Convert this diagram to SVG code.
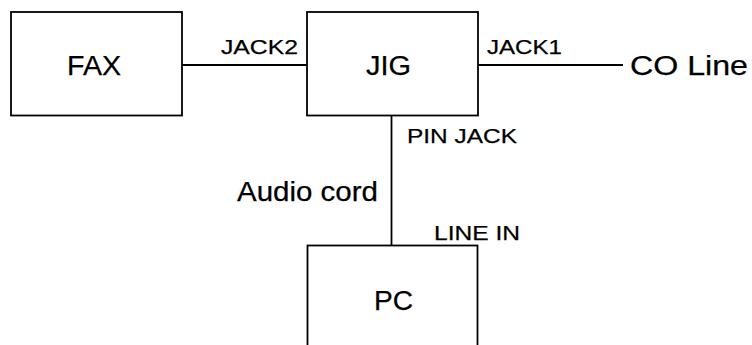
<svg xmlns="http://www.w3.org/2000/svg" width="752" height="345" viewBox="0 0 752 345">
<style>
.box{fill:#fff;stroke:#000;stroke-width:1.8}
.wire{fill:none;stroke:#000;stroke-width:1.8}
text{font-family:"Liberation Sans",Arial,Helvetica,sans-serif;fill:#000;stroke:#000;stroke-width:0.25}
.big{font-size:27px}
.small{font-size:21px}
</style>
<rect width="752" height="345" fill="#fff"/>
<g id="connectors">
<line class="wire" x1="182" y1="65" x2="307" y2="65"/>
<line class="wire" x1="478" y1="65" x2="623" y2="65"/>
<line class="wire" x1="391.5" y1="115" x2="391.5" y2="246"/>
<text class="small" x="221" y="53.5" textLength="77" lengthAdjust="spacingAndGlyphs">JACK2</text>
<text class="small" x="487" y="53.5" textLength="75" lengthAdjust="spacingAndGlyphs">JACK1</text>
<text class="small" x="407" y="142.5" textLength="110" lengthAdjust="spacingAndGlyphs">PIN JACK</text>
<text class="big" x="237" y="201" textLength="141" lengthAdjust="spacingAndGlyphs">Audio cord</text>
<text class="small" x="434" y="239.5" textLength="86" lengthAdjust="spacingAndGlyphs">LINE IN</text>
</g>
<g id="fax">
<rect class="box" x="11" y="12" width="171" height="103.5"/>
<text class="big" x="67" y="75" textLength="54" lengthAdjust="spacingAndGlyphs">FAX</text>
</g>
<g id="jig">
<rect class="box" x="307" y="12" width="171" height="103.5"/>
<text class="big" x="366" y="74.5" textLength="45" lengthAdjust="spacingAndGlyphs">JIG</text>
</g>
<g id="coline">
<text class="big" x="630" y="74.5" textLength="118" lengthAdjust="spacingAndGlyphs">CO Line</text>
</g>
<g id="pc">
<rect class="box" x="307.5" y="245.5" width="170" height="130"/>
<text class="big" x="374" y="310" textLength="39" lengthAdjust="spacingAndGlyphs">PC</text>
</g>
</svg>
